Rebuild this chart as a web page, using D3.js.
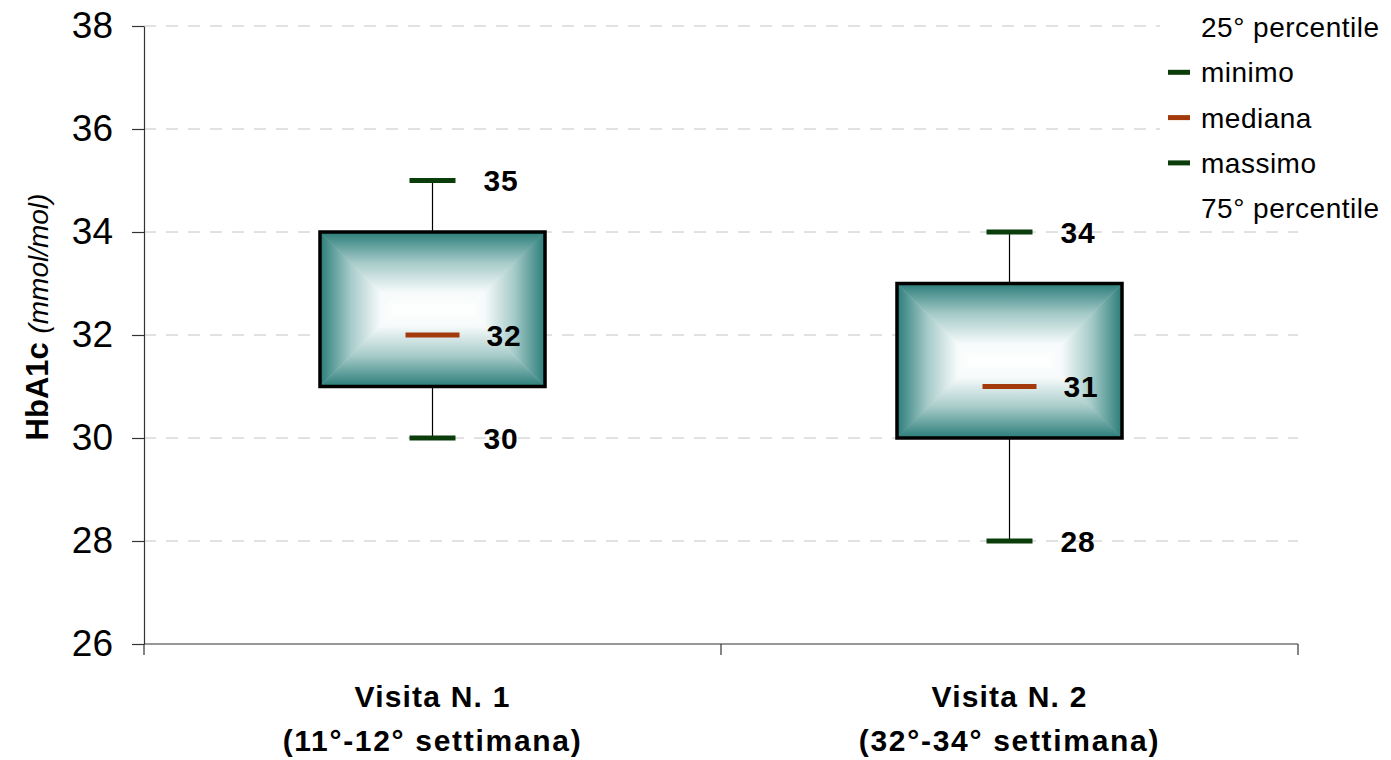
<!DOCTYPE html>
<html>
<head>
<meta charset="utf-8">
<script src="https://cdn.jsdelivr.net/npm/d3@7"></script>
<style>
  body { margin: 0; background: #fff; }
  svg { display: block; font-family: Arial, "Liberation Sans", sans-serif; }
</style>
</head>
<body>
<svg id="chart" width="1391" height="760"></svg>
<script>
// Visits and HbA1c summary statistics (mmol/mol)
const visits = ["Visita N. 1", "Visita N. 2"];
const visitWeeks = ["(11°-12° settimana)", "(32°-34° settimana)"];
const minimo = [30, 28];
const percentile25 = [31, 30];
const mediana = [32, 31];
const percentile75 = [34, 33];
const massimo = [35, 34];
const yTicks = [26, 28, 30, 32, 34, 36, 38];
const legendItems = [
  { label: "25° percentile", marker: null },
  { label: "minimo", marker: "#0b3d0b" },
  { label: "mediana", marker: "#a33a0c" },
  { label: "massimo", marker: "#0b3d0b" },
  { label: "75° percentile", marker: null }
];

const svg = d3.select("#chart");
const plotLeft = 144, plotRight = 1298, plotTop = 26, plotBottom = 644;

const y = d3.scaleLinear().domain([26, 38]).range([plotBottom, plotTop]);
const x = d3.scaleBand().domain(visits).range([plotLeft, plotRight]).paddingInner(0).paddingOuter(0);

const teal = "#2b7d79";
const capColor = "#0b3d0b";
const medColor = "#a33a0c";

// Gradients for the four sides of each box (edge teal fading to white centre)
const defs = svg.append("defs");
function grad(id, x1, y1, x2, y2) {
  const g = defs.append("linearGradient").attr("id", id)
    .attr("x1", x1).attr("y1", y1).attr("x2", x2).attr("y2", y2);
  g.append("stop").attr("offset", "0%").attr("stop-color", teal);
  g.append("stop").attr("offset", "40%").attr("stop-color", "#a6cbc9");
  g.append("stop").attr("offset", "78%").attr("stop-color", "#f6fafa");
  g.append("stop").attr("offset", "100%").attr("stop-color", "#ffffff");
}
grad("gTop", 0, 0, 0, 1);
grad("gBottom", 0, 1, 0, 0);
grad("gLeft", 0, 0, 1, 0);
grad("gRight", 1, 0, 0, 0);

// Horizontal dashed gridlines
svg.append("g").selectAll("line").data(yTicks.filter(d => d > 26)).join("line")
  .attr("x1", plotLeft).attr("x2", plotRight)
  .attr("y1", d => y(d)).attr("y2", d => y(d))
  .attr("stroke", "#c4c4c4").attr("stroke-width", 1)
  .attr("stroke-dasharray", "12,10");

// Y axis
const yAxis = svg.append("g").attr("transform", `translate(${plotLeft},0)`)
  .call(d3.axisLeft(y).tickValues(yTicks).tickSize(12).tickPadding(19).tickSizeOuter(0));
yAxis.select(".domain").attr("stroke", "#333").attr("stroke-width", 1.2);
yAxis.selectAll(".tick line").attr("stroke", "#333").attr("stroke-width", 1.2);
yAxis.selectAll("text").attr("font-size", 37).attr("fill", "#000")
  .attr("font-family", "Arial, 'Liberation Sans', sans-serif");

// X axis with category boundary ticks
svg.append("line").attr("x1", plotLeft).attr("x2", plotRight).attr("y1", plotBottom).attr("y2", plotBottom)
  .attr("stroke", "#333").attr("stroke-width", 1.2);
const boundaries = [plotLeft, ...visits.map(v => x(v) + x.bandwidth())];
svg.append("g").selectAll("line").data(boundaries).join("line")
  .attr("x1", d => d).attr("x2", d => d).attr("y1", plotBottom).attr("y2", plotBottom + 11)
  .attr("stroke", "#333").attr("stroke-width", 1.2);

// Category labels
const xl = svg.append("g");
visits.forEach((v, i) => {
  const cx = x(v) + x.bandwidth() / 2;
  xl.append("text").attr("x", cx).attr("y", 707).attr("text-anchor", "middle")
    .attr("font-size", 30).attr("font-weight", "bold").attr("letter-spacing", 1.2).text(v);
  xl.append("text").attr("x", cx).attr("y", 751).attr("text-anchor", "middle")
    .attr("font-size", 30).attr("font-weight", "bold").attr("letter-spacing", 1.7).text(visitWeeks[i]);
});

// Y axis title
const yt = svg.append("text").attr("transform", `translate(48,317) rotate(-90)`)
  .attr("text-anchor", "middle");
yt.append("tspan").attr("font-size", 31).attr("font-weight", "bold").text("HbA1c ");
yt.append("tspan").attr("font-size", 28).attr("font-style", "italic").text("(mmol/mol)");

// Boxes
const boxW = x.bandwidth() * 0.39;
const capW = 46, medW = 54;
visits.forEach((v, i) => {
  const cx = x(v) + x.bandwidth() / 2;
  const x0 = cx - boxW / 2, x1 = cx + boxW / 2;
  const y0 = y(percentile75[i]), y1 = y(percentile25[i]);
  const h = y1 - y0, cy = (y0 + y1) / 2;
  const g = svg.append("g");

  // whiskers
  g.append("line").attr("x1", cx).attr("x2", cx).attr("y1", y(massimo[i])).attr("y2", y0)
    .attr("stroke", "#000").attr("stroke-width", 1.2);
  g.append("line").attr("x1", cx).attr("x2", cx).attr("y1", y1).attr("y2", y(minimo[i]))
    .attr("stroke", "#000").attr("stroke-width", 1.2);

  // gradient body: four trapezoids meeting along the centre line
  const hw = Math.min(h, boxW) / 2;
  const polys = [
    { pts: [[x0, y0], [x1, y0], [x1 - hw, cy], [x0 + hw, cy]], fill: "gTop" },
    { pts: [[x0, y1], [x1, y1], [x1 - hw, cy], [x0 + hw, cy]], fill: "gBottom" },
    { pts: [[x0, y0], [x0 + hw, cy], [x0, y1]], fill: "gLeft" },
    { pts: [[x1, y0], [x1 - hw, cy], [x1, y1]], fill: "gRight" }
  ];
  polys.forEach(p => {
    g.append("polygon").attr("points", p.pts.map(q => q.join(",")).join(" "))
      .attr("fill", `url(#${p.fill})`).attr("stroke", `url(#${p.fill})`).attr("stroke-width", 0.6);
  });
  g.append("rect").attr("x", x0).attr("y", y0).attr("width", boxW).attr("height", h)
    .attr("fill", "none").attr("stroke", "#000").attr("stroke-width", 3.5);

  // caps and median
  g.append("line").attr("x1", cx - capW / 2).attr("x2", cx + capW / 2)
    .attr("y1", y(massimo[i])).attr("y2", y(massimo[i]))
    .attr("stroke", capColor).attr("stroke-width", 5);
  g.append("line").attr("x1", cx - capW / 2).attr("x2", cx + capW / 2)
    .attr("y1", y(minimo[i])).attr("y2", y(minimo[i]))
    .attr("stroke", capColor).attr("stroke-width", 5);
  g.append("line").attr("x1", cx - medW / 2).attr("x2", cx + medW / 2)
    .attr("y1", y(mediana[i])).attr("y2", y(mediana[i]))
    .attr("stroke", medColor).attr("stroke-width", 5);

  // value labels
  [[massimo[i], 51], [mediana[i], 54], [minimo[i], 51]].forEach(([val, dx]) => {
    g.append("text").attr("x", cx + dx).attr("y", y(val)).attr("dy", "0.36em")
      .attr("font-size", 30).attr("font-weight", "bold").attr("letter-spacing", 0.8).text(val);
  });
});

// Legend
const lg = svg.append("g");
lg.append("rect").attr("x", 1160).attr("y", 0).attr("width", 231).attr("height", 226).attr("fill", "#fff");
legendItems.forEach((d, i) => {
  const ly = 27 + i * 45.3;
  if (d.marker) {
    lg.append("line").attr("x1", 1168).attr("x2", 1190).attr("y1", ly).attr("y2", ly)
      .attr("stroke", d.marker).attr("stroke-width", 5);
  }
  lg.append("text").attr("x", 1201).attr("y", ly).attr("dy", "0.36em")
    .attr("font-size", 28).attr("letter-spacing", 0.5).text(d.label);
});
</script>
</body>
</html>
